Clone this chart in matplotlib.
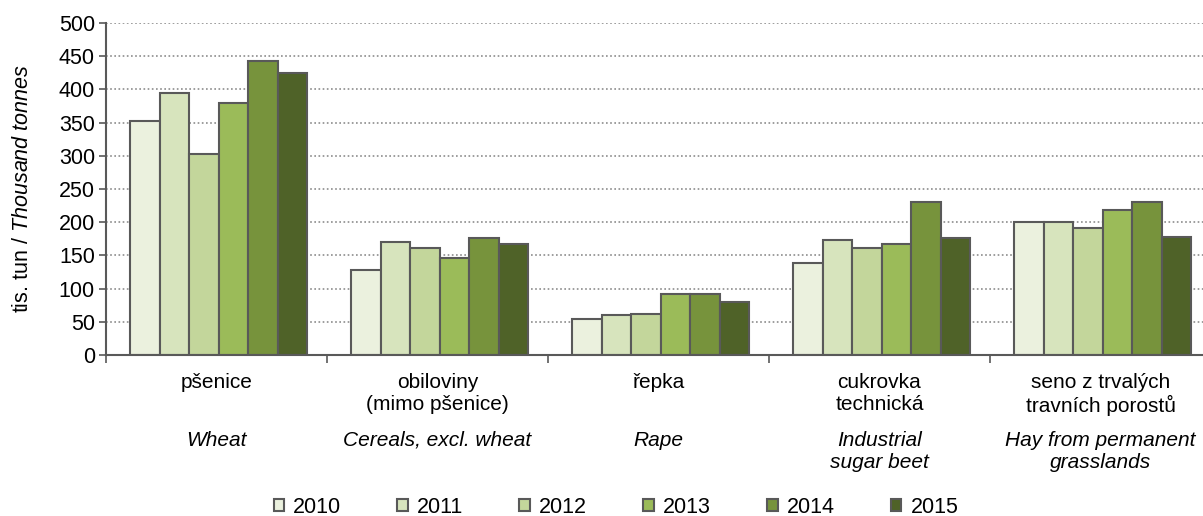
import numpy as np
import matplotlib
matplotlib.use("Agg")
import matplotlib.pyplot as plt

plt.rcParams['font.family'] = ['Liberation Sans', 'DejaVu Sans']
plt.rcParams['mathtext.fontset'] = 'custom'
plt.rcParams['mathtext.rm'] = 'Liberation Sans'
plt.rcParams['mathtext.it'] = 'Liberation Sans:italic'

# data (thousand tonnes)
years = ['2010', '2011', '2012', '2013', '2014', '2015']
labels_cz = ['pšenice', 'obiloviny\n(mimo pšenice)', 'řepka', 'cukrovka\ntechnická',
             'seno z trvalých\ntravních porostů']
labels_en = ['Wheat', 'Cereals, excl. wheat', 'Rape', 'Industrial\nsugar beet',
             'Hay from permanent\ngrasslands']
v2010 = [353, 128, 54, 138, 200]
v2011 = [395, 170, 60, 173, 200]
v2012 = [302, 161, 62, 161, 191]
v2013 = [380, 146, 92, 167, 218]
v2014 = [443, 176, 92, 231, 231]
v2015 = [425, 167, 80, 176, 177]
values = [v2010, v2011, v2012, v2013, v2014, v2015]
colors = ['#EBF1DE', '#D7E4BD', '#C3D69B', '#9BBB59', '#77933C', '#4F6228']

fig = plt.figure(figsize=(12.03, 5.16), dpi=100)
ax = fig.add_axes([106 / 1203, 161 / 516, 1105 / 1203, 332 / 516])

n = len(labels_cz)
x = np.arange(n)
w = 0.8 / len(years)
for i, (yr, vals) in enumerate(zip(years, values)):
    ax.bar(x - 0.4 + w * (i + 0.5) + 0.01, vals, width=w, color=colors[i],
           edgecolor='#595959', linewidth=1.5, label=yr, zorder=3)

ax.set_xlim(-0.5, n - 0.5)
ax.set_ylim(0, 500)
ax.set_yticks(np.arange(0, 501, 50))
ax.yaxis.grid(True, linestyle=(0, (1, 1.5)), color='#8c8c8c', linewidth=1.2, zorder=0)
ax.set_xticks(np.arange(-0.5, n, 1.0))
ax.set_xticklabels([])
ax.tick_params(axis='x', length=6, width=1.2, color='#595959', direction='out')
ax.tick_params(axis='y', length=5, width=1.2, color='#595959', labelsize=15.5, pad=3)
for s in ['top', 'right']:
    ax.spines[s].set_visible(False)
for s in ['left', 'bottom']:
    ax.spines[s].set_color('#595959')
    ax.spines[s].set_linewidth(1.5)
ax.spines['bottom'].set_zorder(4)

ax.set_ylabel(r'tis. tun / $\it{Thousand\ tonnes}$', fontsize=15.5)
ax.yaxis.set_label_coords(-0.066, 0.5)

tr = ax.get_xaxis_transform()
for i in range(n):
    ax.text(x[i], -0.055, labels_cz[i], transform=tr, ha='center', va='top',
            fontsize=15, linespacing=1.15)
    ax.text(x[i], -0.228, labels_en[i], transform=tr, ha='center', va='top',
            fontsize=15, style='italic', linespacing=1.2)

leg = fig.legend(loc='center', bbox_to_anchor=(0.512, 0.017), ncol=6, frameon=False,
                 fontsize=15.5, handlelength=0.5, handleheight=0.5, handletextpad=0.42,
                 columnspacing=2.6)

fig.savefig('out.png', dpi=100)
